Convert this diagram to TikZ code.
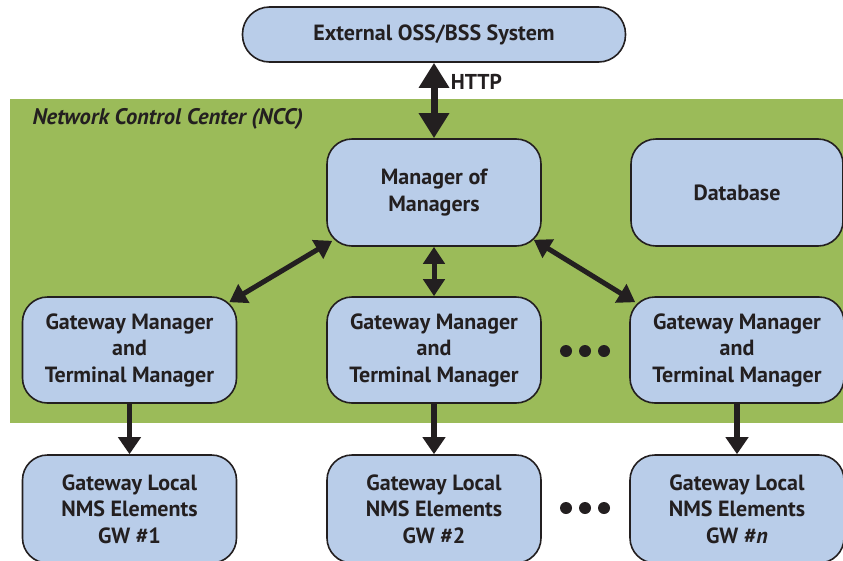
\documentclass[tikz,border=0pt]{standalone}
\usepackage{fontspec}
\setmainfont{PT Sans}
\usepackage{tikz}
\usetikzlibrary{arrows.meta}

\definecolor{boxblue}{RGB}{185,205,233}
\definecolor{nccgreen}{RGB}{155,187,89}
\definecolor{inkdark}{RGB}{35,31,32}

\tikzset{
  unit/.style={draw=inkdark, fill=boxblue, line width=1.6pt, rounded corners=25pt,
    minimum width=214pt, minimum height=106pt, align=center, text=inkdark,
    font=\fontsize{22}{26.5}\selectfont\bfseries, inner sep=0pt},
  link/.style={inkdark, line width=5pt, {Triangle[width=21pt,length=17pt]}-{Triangle[width=21pt,length=17pt]}},
  feed/.style={inkdark, line width=5.5pt, -{Triangle[width=22pt,length=17pt]}}
}

\begin{document}
\begin{tikzpicture}[x=1pt, y=-1pt]
    \useasboundingbox (0,0) rectangle (843,560);
    \clip (0,0) rectangle (843,560);
    % control center background
    \fill[nccgreen] (10,99) rectangle (843,423);
    \node[anchor=west, text=inkdark, font=\fontsize{22.5}{26}\selectfont\bfseries\itshape] (ncc) at (29,119) {Network Control Center (NCC)};
    % top level
    \node[unit, minimum width=383pt, minimum height=55pt, rounded corners=27pt] (oss) at (434,34.5) {External OSS/BSS System};
    \node[unit, minimum height=107pt] (mom) at (434,192.5) {Manager of\\Managers};
    \node[unit, minimum width=212pt, minimum height=107pt] (db) at (737,192.5) {Database};
    % gateway managers and local elements
    \foreach \x/\i/\g in {129.5/1/1, 434/2/2, 737/3/\textit{n}} {
      \node[unit] (gm\i) at (\x,350) {Gateway Manager\\and\\Terminal Manager};
      \node[unit, minimum height=108pt] (gw\i) at (\x,509) {Gateway Local\\NMS Elements\\GW \#\g};
      \draw[feed] (gm\i.south) -- (gw\i.north);
    }
    % links to the manager of managers
    \draw[inkdark, line width=7pt, {Triangle[width=29pt,length=25pt]}-{Triangle[width=29pt,length=25pt]}] (oss.south) -- node[pos=0.25, right=10pt, text=inkdark, font=\fontsize{21.5}{26}\selectfont\bfseries] (http) {HTTP} (mom.north);
    \draw[link] (mom.south) -- (gm2.north);
    \draw[link] ([shift={(6,-6)}]mom.south west) -- ([shift={(-8,6)}]gm1.north east);
    \draw[link] ([shift={(-8,-7)}]mom.south east) -- ([shift={(6,6)}]gm3.north west);
    % ellipses between the columns
    \foreach \y in {351,508}
      \foreach \x in {566,585,604}
        \fill[inkdark] (\x,\y) circle[radius=6pt];
\end{tikzpicture}
\end{document}
